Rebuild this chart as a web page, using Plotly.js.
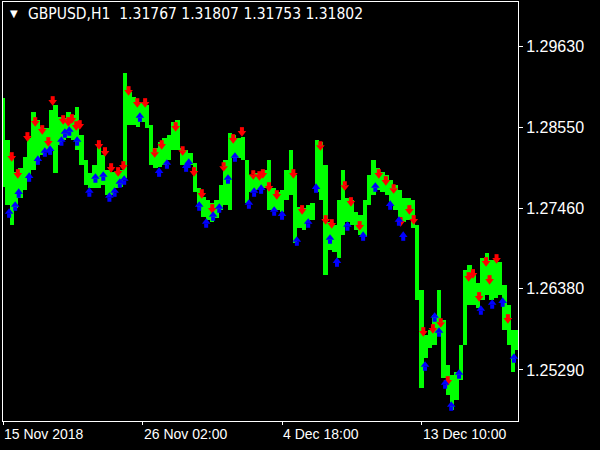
<!DOCTYPE html>
<html>
<head>
<meta charset="utf-8">
<script src="https://cdn.plot.ly/plotly-3.0.1.min.js"></script>
<style>html,body{margin:0;padding:0;background:#000;}#chart{width:600px;height:450px;}</style>
</head>
<body>
<div id="chart"></div>
<script>
// H1 bars sampled every 5 bars (bar index = position on MT4 time scale)
const SAMPLE_STEP = 5;
const highs = [1.28941,1.28378,1.28136,1.27948,1.28001,1.28149,1.28405,1.28754,1.28646,1.28552,
1.28539,1.28780,1.28848,1.28686,1.28673,1.28754,1.28713,1.28821,1.28445,1.28109,
1.27935,1.28042,1.28311,1.28176,1.27975,1.27948,1.27948,1.27975,1.29277,1.29022,
1.28955,1.28888,1.28874,1.28848,1.28579,1.28270,1.28351,1.28405,1.28445,1.28619,
1.28646,1.28270,1.28243,1.28203,1.28069,1.27733,1.27612,1.27572,1.27532,1.27572,
1.27773,1.28109,1.28472,1.28445,1.28405,1.28418,1.28109,1.27908,1.27935,1.27948,
1.27975,1.28109,1.27733,1.27679,1.27706,1.27975,1.28243,1.27908,1.27478,1.27465,
1.27505,1.27532,1.28378,1.28351,1.28042,1.27277,1.27237,1.27572,1.27975,1.27599,
1.27572,1.27411,1.27371,1.27572,1.27908,1.28109,1.28001,1.27948,1.27908,1.27841,
1.27773,1.27706,1.27599,1.27599,1.27572,1.27237,1.26364,1.25760,1.25827,1.26029,
1.26364,1.25961,1.25357,1.25223,1.25263,1.25626,1.26633,1.26700,1.26566,1.26458,
1.26794,1.26861,1.26767,1.26794,1.26740,1.26431,1.26163,1.25827,1.25827];
const lows = [1.27747,1.27505,1.27237,1.27465,1.27599,1.27706,1.27868,1.27975,1.28136,1.28176,
1.28216,1.28243,1.27935,1.28311,1.28378,1.28405,1.28378,1.28243,1.28042,1.27773,
1.27733,1.27733,1.27733,1.27773,1.27639,1.27639,1.27733,1.27746,1.27868,1.28579,
1.28579,1.28552,1.28619,1.28539,1.28042,1.28001,1.28015,1.28042,1.28109,1.28243,
1.28243,1.28042,1.28042,1.28042,1.27679,1.27478,1.27344,1.27304,1.27277,1.27331,
1.27438,1.27505,1.27438,1.28136,1.28136,1.28109,1.27532,1.27679,1.27706,1.27733,
1.27733,1.27438,1.27438,1.27438,1.27411,1.27572,1.27639,1.26995,1.27197,1.27170,
1.27264,1.27304,1.27679,1.27572,1.26566,1.26901,1.26874,1.26794,1.27102,1.27277,
1.27237,1.27170,1.27102,1.27075,1.27505,1.27639,1.27706,1.27679,1.27639,1.27505,
1.27438,1.27344,1.27277,1.27304,1.27197,1.26230,1.25049,1.25451,1.25585,1.25626,
1.25787,1.25183,1.24955,1.24753,1.24887,1.25156,1.25626,1.26163,1.26163,1.26123,
1.26230,1.26297,1.26230,1.26257,1.26297,1.25827,1.25626,1.25263,1.25559];

// Sell (red down) arrows
const sellIdx = [10,17,28,37,45,52,57,69,75,79,84,88,110,117,124,132,138,144,154,163,
174,182,198,206,219,228,240,253,264,274,287,294,298,305,314,333,343,364,370,377,
392,399,409,431,439,448,456,466,471,482,493,502,510,534,539,546,554,558,566,579];
const sellPrice = [1.28136,1.27908,1.28405,1.28606,1.28499,1.28338,1.28888,1.28633,1.28606,1.28646,
1.28552,1.28566,1.28297,1.28203,1.27988,1.27935,1.28015,1.29022,1.28861,1.28861,
1.28189,1.28297,1.28539,1.28216,1.27935,1.27639,1.27438,1.28001,1.28378,1.28472,
1.27894,1.27881,1.27908,1.27733,1.27626,1.27908,1.27425,1.28283,1.27291,1.27237,
1.27746,1.27532,1.27210,1.27908,1.27814,1.27706,1.27264,1.27425,1.27291,1.25787,
1.25827,1.25907,1.25129,1.26525,1.26566,1.26257,1.26727,1.26485,1.26767,1.25961];

// Buy (blue up) arrows
const buyIdx = [7,14,18,30,40,48,54,67,71,76,85,99,106,115,122,128,134,139,157,179,
188,210,213,225,233,241,248,258,266,282,288,296,311,320,337,350,359,375,383,395,
413,427,444,454,459,484,495,500,507,514,523,548,561,573,586];
const buyPrice = [1.27411,1.27505,1.27679,1.27894,1.28122,1.28230,1.28256,1.28378,1.28485,1.28512,
1.28378,1.27693,1.27881,1.27908,1.27626,1.27693,1.27814,1.27854,1.28700,1.27961,
1.28069,1.28028,1.28082,1.27505,1.27277,1.27371,1.27478,1.27868,1.28163,1.27532,
1.27693,1.27733,1.27438,1.27384,1.27035,1.27277,1.27746,1.27062,1.26753,1.27237,
1.27102,1.27760,1.27518,1.27304,1.27102,1.25357,1.26015,1.25814,1.25116,1.24820,
1.25250,1.26109,1.26190,1.26216,1.25465];

const priceTicks = [1.25290, 1.26380, 1.27460, 1.28550, 1.29630];
const timeTickIdx = [0, 160, 320, 480];
const timeTickText = ["15 Nov 2018", "26 Nov 02:00", "4 Dec 18:00", "13 Dec 10:00"];
const symbolTitle = "GBPUSD,H1\u00a0\u00a01.31767 1.31807 1.31753 1.31802";

const RED = '#ff0000', BLUE = '#0000ff', GREEN = '#00ff00';
const barX = highs.map((_, i) => i * SAMPLE_STEP);

function arrowParts(xs, ys, color, down) {
  // head: triangle at the point; shaft: small square pushed behind the head
  return [
    {type: 'scatter', mode: 'markers', x: xs, y: ys, hoverinfo: 'skip',
     marker: {symbol: 'square', size: 4, color: color, angle: down ? 180 : 0, standoff: 3.8, line: {width: 0}}},
    {type: 'scatter', mode: 'markers', x: xs, y: ys, hoverinfo: 'skip',
     marker: {symbol: down ? 'triangle-down' : 'triangle-up', size: 7.5, color: color, line: {width: 0}}}
  ];
}

const traces = [
  {
    type: 'bar', x: barX, base: lows, y: highs.map((h, i) => h - lows[i]),
    width: SAMPLE_STEP, marker: {color: GREEN, line: {width: 0}},
    hoverinfo: 'skip'
  }
].concat(arrowParts(sellIdx, sellPrice, RED, true), arrowParts(buyIdx, buyPrice, BLUE, false));

const annotations = timeTickIdx.map((v, i) => ({
  x: v, xref: 'x', y: -0.031, yref: 'paper', text: timeTickText[i], showarrow: false,
  xanchor: 'left', yanchor: 'middle', xshift: -1,
  font: {color: '#ffffff', size: 14, family: 'Liberation Sans, Arial, sans-serif'}
}));
annotations.push({
  x: 0.0447, xref: 'paper', y: 0.971, yref: 'paper', text: symbolTitle, showarrow: false,
  xanchor: 'left', yanchor: 'middle',
  font: {color: '#ffffff', size: 15.5, family: 'DejaVu Sans Condensed, DejaVu Sans, sans-serif'}
});
annotations.push({
  x: 0.0204, xref: 'paper', y: 0.973, yref: 'paper', text: '\u25BC', showarrow: false,
  xanchor: 'center', yanchor: 'middle',
  font: {color: '#ffffff', size: 10, family: 'DejaVu Sans'}
});

const layout = {
  width: 600, height: 450,
  margin: {l: 3, r: 82, t: 2, b: 29, pad: 0},
  paper_bgcolor: '#000000', plot_bgcolor: '#000000',
  showlegend: false, bargap: 0,
  xaxis: {
    range: [0, 590.6], showgrid: false, zeroline: false,
    showline: true, mirror: true, linecolor: '#ffffff', linewidth: 1,
    tickvals: timeTickIdx, ticktext: timeTickText.map(() => ''), ticks: 'outside', ticklen: 3, tickcolor: '#ffffff',
    fixedrange: true
  },
  yaxis: {
    range: [1.24605, 1.30230], side: 'right', showgrid: false, zeroline: false,
    showline: true, mirror: true, linecolor: '#ffffff', linewidth: 1,
    tickvals: priceTicks, ticktext: priceTicks.map(v => v.toFixed(5)),
    ticks: 'outside', ticklen: 4, tickcolor: '#ffffff',
    tickfont: {color: '#ffffff', size: 16, family: 'Liberation Sans, Arial, sans-serif'},
    fixedrange: true
  },
  annotations: annotations
};

Plotly.newPlot('chart', traces, layout, {displayModeBar: false, staticPlot: true});
</script>
</body>
</html>
